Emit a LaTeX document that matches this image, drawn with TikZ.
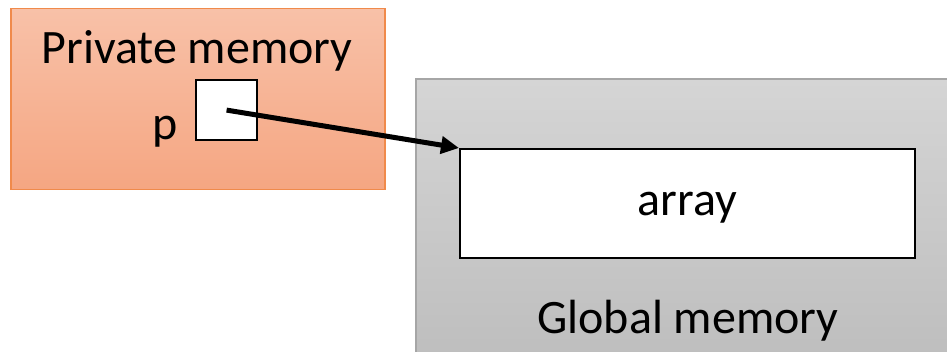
\documentclass[tikz,border=0pt]{standalone}
\usepackage{fontspec}
\setmainfont{Carlito}
\usetikzlibrary{arrows.meta}
\definecolor{orTop}{HTML}{F8C1A8}
\definecolor{orBot}{HTML}{F5A682}
\definecolor{orLine}{HTML}{F08A4B}
\definecolor{gyTop}{HTML}{D5D5D5}
\definecolor{gyBot}{HTML}{BDBDBD}
\definecolor{gyLine}{HTML}{A6A6A6}
\tikzset{
  mem/.style={draw, line width=1.5pt, inner sep=0pt, minimum width=#1},
  whitebox/.style={draw=black, fill=white, line width=2.2pt, inner sep=0pt},
  lbl/.style={inner sep=0pt, font=\fontsize{48}{52}\selectfont},
  ptr/.style={line width=5pt, -{Triangle[length=18pt,width=17pt]}}
}
\begin{document}
\begin{tikzpicture}[x=1pt,y=-1pt]
\useasboundingbox (0,0) rectangle (947,352);
\clip (0,0) rectangle (947,352);
% private memory
\node[mem=374pt, minimum height=181pt, draw=orLine, top color=orTop, bottom color=orBot, anchor=north west] (priv) at (10,8) {};
\node[lbl, anchor=base] (privlbl) at (197,64) {Private memory};
\node[whitebox, minimum width=61pt, minimum height=60pt, anchor=north west] (pbox) at (195,79) {};
\node[lbl, anchor=base] (plbl) at (165,140) {p};
% global memory
\node[mem=545pt, minimum height=290pt, draw=gyLine, line width=2pt, top color=gyTop, bottom color=gyBot, anchor=north west] (glob) at (415,78) {};
\node[whitebox, minimum width=455pt, minimum height=109pt, anchor=north west] (arr) at (459,148) {};
\node[lbl, anchor=base] (arrlbl) at (arr.center) [yshift=-12pt] {array};
\node[lbl, anchor=base] (globlbl) at (688,334) {Global memory};
% pointer
\draw[ptr] (pbox.center) -- (arr.north west);
\end{tikzpicture}
\end{document}
